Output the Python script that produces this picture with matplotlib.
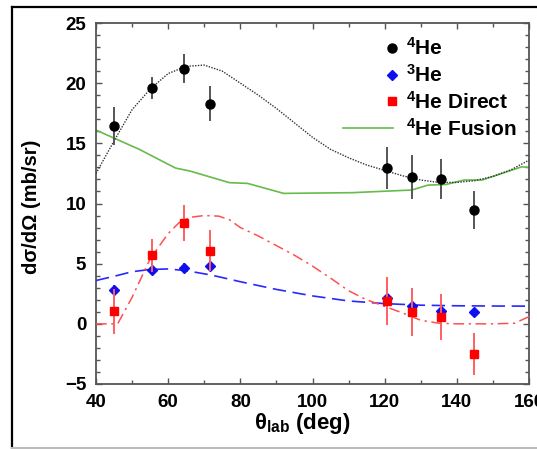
import numpy as np
import matplotlib
matplotlib.use("Agg")
import matplotlib.pyplot as plt
from matplotlib.lines import Line2D
from matplotlib.legend_handler import HandlerLine2D

plt.rcParams['font.family'] = ['Liberation Sans', 'DejaVu Sans']
plt.rcParams['font.weight'] = 'bold'
plt.rcParams['mathtext.fontset'] = 'custom'
plt.rcParams['mathtext.rm'] = 'Liberation Sans'
plt.rcParams['mathtext.bf'] = 'Liberation Sans:bold'
plt.rcParams['mathtext.it'] = 'Liberation Sans:italic'
plt.rcParams['mathtext.default'] = 'rm'

# ---- data points ----
angles = [45.0, 55.6, 64.4, 71.5, 120.7, 127.5, 135.6, 144.7]

he4 = [16.45, 19.6, 21.2, 18.3, 12.95, 12.2, 12.05, 9.45]
he4_err = [1.6, 0.9, 1.2, 1.45, 1.75, 1.85, 1.65, 1.55]

he3 = [2.8, 4.47, 4.66, 4.83, 2.17, 1.48, 1.09, 1.0]
he3_err = [0.45, 0.35, 0.4, 0.45, 0.35, 0.3, 0.3, 0.25]

he4_direct = [1.03, 5.69, 8.4, 6.07, 1.89, 1.0, 0.54, -2.51]
he4_direct_err = [1.9, 1.4, 1.5, 1.7, 2.0, 2.0, 1.9, 1.75]

# ---- curves ----
fit4_x = [40, 45, 50, 55, 60, 65, 70, 75, 80, 85, 90, 95, 100, 105, 110, 115,
          120, 125, 130, 135, 140, 145, 150, 155, 160]
fit4_y = [12.5, 15.2, 17.8, 19.5, 20.8, 21.4, 21.5, 21.0, 20.0, 19.0, 17.9,
          16.7, 15.5, 14.5, 13.8, 13.2, 12.75, 12.3, 11.95, 11.75, 11.75,
          11.9, 12.25, 12.8, 13.6]

fus_x = [40, 52, 62, 66, 77, 82, 92, 111, 127.5, 132, 137, 142, 147, 158, 160]
fus_y = [16.1, 14.5, 12.95, 12.7, 11.73, 11.67, 10.84, 10.9, 11.12, 11.53,
         11.58, 11.95, 11.95, 13.05, 13.0]

fit3_x = [40, 45, 50, 55, 60, 65, 72, 80, 90, 100, 110, 120, 130, 140, 150, 160]
fit3_y = [3.6, 3.95, 4.33, 4.52, 4.56, 4.42, 4.05, 3.5, 2.86, 2.32, 1.9,
          1.68, 1.55, 1.5, 1.48, 1.47]

dir_x = [40, 46, 50, 55, 60, 63, 66, 70, 74, 77, 80, 85, 90, 95, 100, 105,
         110, 115, 120, 125, 130, 135, 140, 150, 156, 160]
dir_y = [0, 0, 2.2, 5.4, 7.5, 8.4, 8.85, 9.0, 8.95, 8.65, 8.0, 7.3, 6.5, 5.7,
         4.8, 3.8, 2.75, 2.0, 1.45, 0.9, 0.3, 0.05, 0, 0, 0.05, 0.6]

labels = ['$^{4}$He', '$^{3}$He', '$^{4}$He Direct', '$^{4}$He Fusion']


class RightMarkerHandler(HandlerLine2D):
    """Place the single legend marker at the right end of the handle box."""
    def get_xdata(self, legend, xdescent, ydescent, width, height, fontsize):
        xr = -xdescent + width - 1
        return [xr - 0.5, xr + 0.5], [xr]


fig = plt.figure(figsize=(5.37, 4.49), dpi=100)
ax = fig.add_axes([96/537, 1-384/449, 433/537, 361/449])

spine_col = '#555555'
for s in ax.spines.values():
    s.set_color(spine_col)
    s.set_linewidth(1.3)

ax.plot(fus_x, fus_y, color='#66bb4a', lw=1.2, zorder=2)
ax.plot(fit4_x, fit4_y, color='#333333', lw=1.0, ls=(0, (1, 1)), zorder=3)
ax.plot(fit3_x, fit3_y, color='#2828ff', lw=1.2, ls=(0, (8, 4)), zorder=3)
ax.plot(dir_x, dir_y, color='#ff5050', lw=1.1, ls=(0, (7, 3, 1.5, 3)), zorder=3)

ax.errorbar(angles, he4, yerr=he4_err, fmt='o', color='black', ms=6.5,
            ecolor='#555555', elinewidth=1.4, capsize=0, zorder=4)
ax.errorbar(angles, he3, yerr=he3_err, fmt='D', color='#1010ee', ms=4.8,
            ecolor='#3030ff', elinewidth=1.4, capsize=0, zorder=5)
ax.errorbar(angles, he4_direct, yerr=he4_direct_err, fmt='s', color='#ff0000',
            ms=5.5, ecolor='#ff6060', elinewidth=1.4, capsize=0, zorder=6)

ax.set_xlim(40, 160)
ax.set_ylim(-5, 25)
ax.set_xticks([40, 60, 80, 100, 120, 140, 160])
ax.set_xticks(np.arange(40, 161, 10), minor=True)
ax.set_yticks([-5, 0, 5, 10, 15, 20, 25])
ax.set_yticks(np.arange(-5, 25.1, 1), minor=True)
ax.tick_params(which='both', direction='in', top=True, right=True,
               color=spine_col, labelsize=13.5)
ax.tick_params(which='major', length=4, width=1.0, pad=7)
ax.tick_params(which='minor', length=2.8, width=1.0)
for lab in ax.get_xticklabels() + ax.get_yticklabels():
    lab.set_fontweight('bold')

ax.set_ylabel('dσ/dΩ (mb/sr)', fontsize=14.5, fontweight='bold')
ax.yaxis.set_label_coords(-0.128, 0.49)
ax.set_xlabel('θ$_{\\mathbf{lab}}$ (deg)', fontsize=16, fontweight='bold')
ax.xaxis.set_label_coords(0.476, -0.075)

handles = [
    Line2D([], [], marker='o', color='black', ls='none', ms=6.5),
    Line2D([], [], marker='D', color='#1010ee', ls='none', ms=4.8),
    Line2D([], [], marker='s', color='#ff0000', ls='none', ms=5.5),
    Line2D([], [], color='#66bb4a', lw=1.2),
]
hmap = {h: RightMarkerHandler() for h in handles[:3]}
leg = ax.legend(handles, labels, loc='upper left', frameon=False,
                bbox_to_anchor=((343 - 96) / 433, (384 - 37) / 361),
                fontsize=15, handlelength=2.4, handletextpad=0.6,
                labelspacing=0.24, borderaxespad=0.0, borderpad=0.0,
                handler_map=hmap)
for t in leg.get_texts():
    t.set_fontweight('bold')

# outer frame
fig.add_artist(Line2D([12/537, 12/537], [1-7/449, 1-448/449], color='black',
                      lw=1.6, transform=fig.transFigure))
fig.add_artist(Line2D([12/537, 1.0], [1-7/449, 1-7/449], color='black',
                      lw=1.6, transform=fig.transFigure))
fig.add_artist(Line2D([12/537, 1.0], [1-448/449, 1-448/449], color='#bbbbbb',
                      lw=1.5, transform=fig.transFigure))

fig.savefig('out.png', dpi=100)
